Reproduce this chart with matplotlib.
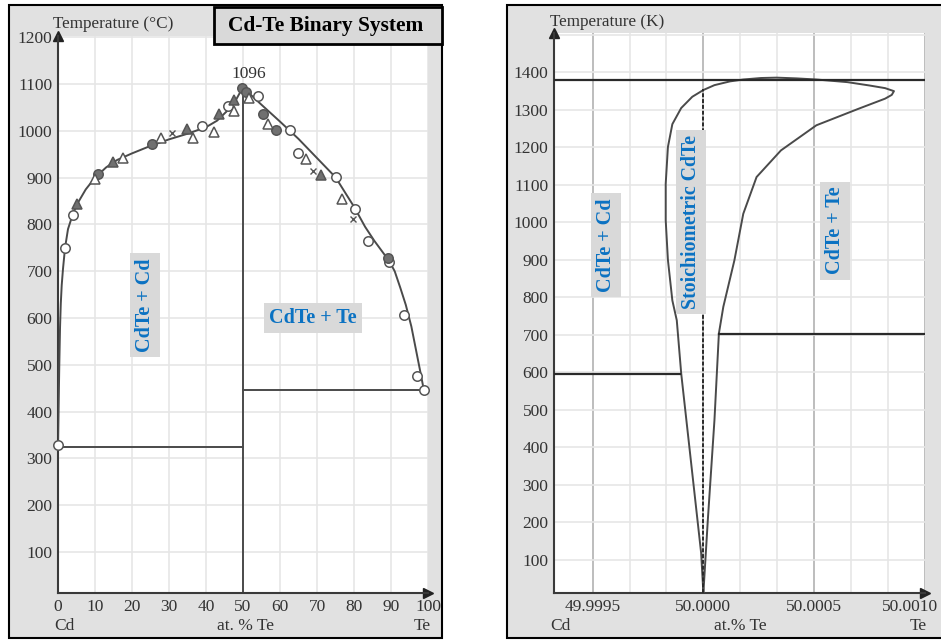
import matplotlib.pyplot as plt
from matplotlib.patches import Rectangle
from matplotlib.transforms import ScaledTranslation

# ---- left panel data (deg C vs at.% Te) ----
liq_x = [0, 0.15, 0.35, 0.55, 0.75, 1.0, 1.35, 1.9, 2.7, 4.0, 5.2, 7.5, 10, 13, 16, 20, 25, 30, 35,
         40, 43, 46, 48, 49.6, 50.3, 52, 55, 60, 65, 70, 75, 80, 83, 85.5, 89.5, 91, 92.5, 94, 95.5,
         97, 98, 98.9]
liq_t = [324, 400, 500, 580, 630, 670, 705, 750, 790, 822, 844, 875, 900, 922, 938, 952, 968, 982, 994,
         1008, 1022, 1045, 1065, 1088, 1090, 1078, 1056, 1020, 983, 942, 901, 838, 795, 765, 722, 700,
         665, 628, 582, 522, 482, 445]

open_circ_x = [0, 1.9, 4.1, 39, 45.9, 54, 62.7, 64.8, 75.1, 80.3, 83.9, 89.5, 93.5, 97.1, 98.9]
open_circ_t = [328, 749, 821, 1010, 1053, 1074, 1002, 952, 901, 834, 765, 719, 606, 475, 445]
fill_circ_x = [10.8, 25.4, 49.6, 50.8, 55.4, 58.9, 89.3]
fill_circ_t = [908, 973, 1091, 1083, 1037, 1003, 729]
open_tri_x = [10, 17.5, 27.8, 36.4, 42.2, 47.7, 51.7, 56.8, 67, 76.8]
open_tri_t = [898, 943, 985, 985, 998, 1042, 1071, 1014, 941, 854]
fill_tri_x = [5.2, 14.9, 34.8, 43.5, 47.7, 71.1]
fill_tri_t = [844, 934, 1005, 1036, 1066, 905]
cross_x = [30.7, 68.8, 79.8]
cross_t = [995, 914, 812]

eutectic_cd = 324
eutectic_te = 446
cdte_line_top = 1072

# ---- right panel data (K vs at.% Te) ----
sol_x = [50.0, 49.99999, 49.99994, 49.99990, 49.99988, 49.99986, 49.99984, 49.99983, 49.99983,
         49.99984, 49.99986, 49.99990, 49.99995, 50.00000, 50.00005, 50.00012, 50.00018, 50.00026,
         50.00033, 50.00042, 50.00051, 50.00065, 50.00075, 50.00082, 50.00086, 50.00085,
         50.00082, 50.00070, 50.00051, 50.00035, 50.00024, 50.00018, 50.00014, 50.00009,
         50.00007, 50.00005, 50.00002, 50.0]
sol_t = [12, 118, 384, 597, 739, 792, 900, 1006, 1103, 1201, 1262, 1305, 1335, 1353, 1366, 1376,
         1381, 1385, 1386, 1384, 1381, 1374, 1365, 1358, 1350, 1340, 1330, 1303, 1259, 1192, 1121,
         1023, 899, 775, 704, 473, 206, 12]

melt_k = 1380
line_te_k = 702
line_te_x0 = 50.000072
line_cd_k = 596
line_cd_x1 = 49.999896
stoich_top = 1355

plt.rcParams['font.family'] = ['Liberation Serif', 'DejaVu Serif']

W, H = 941, 641
fig = plt.figure(figsize=(W / 100, H / 100), dpi=100)
fig.patch.set_facecolor('white')


def fx(px):
    return px / W


def fy(py):
    return 1 - py / H


# gray panel frames
fig.patches.append(Rectangle((fx(9), fy(638)), fx(442 - 9), (638 - 5) / H, transform=fig.transFigure,
                             facecolor='#e1e1e1', edgecolor='black', lw=1.5, zorder=-2))
fig.patches.append(Rectangle((fx(507), fy(638)), fx(445), (638 - 5) / H, transform=fig.transFigure,
                             facecolor='#e1e1e1', edgecolor='black', lw=1.5, zorder=-2))

ax1 = fig.add_axes([fx(58), fy(593), fx(428 - 58), (593 - 36) / H])
ax2 = fig.add_axes([fx(554), fy(593), fx(925 - 554), (593 - 33) / H])

tick_col = '#333333'
line_col = '#4a4a4a'
for ax in (ax1, ax2):
    ax.set_zorder(1)
    ax.set_facecolor('white')
    for s in ('top', 'right'):
        ax.spines[s].set_visible(False)
    for s in ('left', 'bottom'):
        ax.spines[s].set_color('#3a3a3a')
        ax.spines[s].set_linewidth(1.5)
    ax.tick_params(length=0, labelsize=12.5, colors=tick_col, pad=4)
    ax.plot([0], [1], marker='^', color='#222222', ms=7, transform=ax.transAxes, clip_on=False)
    ax.plot([1], [0], marker='>', color='#222222', ms=7, transform=ax.transAxes, clip_on=False)

# ---- left panel ----
ax1.set_xlim(0, 100)
ax1.set_ylim(12, 1203)
ax1.set_xticks(range(0, 101, 10))
ax1.set_yticks(range(100, 1201, 100))
ax1.grid(True, color='#e6e6e6', lw=1.2)
ax1.set_axisbelow(True)

ax1.plot(liq_x, liq_t, color=line_col, lw=1.4, zorder=3)
ax1.plot([0, 50], [eutectic_cd, eutectic_cd], color=line_col, lw=1.4)
ax1.plot([50, 100], [eutectic_te, eutectic_te], color=line_col, lw=1.4)
ax1.plot([50, 50], [12, cdte_line_top], color=line_col, lw=1.4)

mk = dict(ls='none', ms=6.8, mec='#555555', mew=1.1, zorder=4, clip_on=False)
ax1.plot(open_circ_x, open_circ_t, marker='o', mfc='white', **mk)
ax1.plot(fill_circ_x, fill_circ_t, marker='o', mfc='#707070', **mk)
ax1.plot(open_tri_x, open_tri_t, marker='^', mfc='white', **mk)
ax1.plot(fill_tri_x, fill_tri_t, marker='^', mfc='#707070', **mk)
ax1.plot(cross_x, cross_t, marker='x', mfc='none', ls='none', ms=5, mec='#555555', mew=1.0, zorder=4)

ax1.text(51.5, 1121, '1096', fontsize=12.5, color=tick_col, ha='center', va='center')

blue = '#0b72c2'
box = dict(boxstyle='square,pad=0.25', facecolor='#d9d9d9', edgecolor='none')
ax1.text(23.5, 628, 'CdTe + Cd', rotation=90, fontsize=14.5, fontweight='bold', color=blue,
         ha='center', va='center', bbox=box)
ax1.text(69, 600, 'CdTe + Te', fontsize=14.5, fontweight='bold', color=blue,
         ha='center', va='center', bbox=box)

fig.text(fx(53), fy(24), 'Temperature (\u00b0C)', fontsize=12.3, color=tick_col, va='center')
fig.text(fx(54), fy(626), 'Cd', fontsize=12.5, color=tick_col, va='center')
fig.text(fx(245), fy(626), 'at. % Te', fontsize=12.5, color=tick_col, va='center', ha='center')
fig.text(fx(422), fy(626), 'Te', fontsize=12.5, color=tick_col, va='center', ha='center')

# title box
fig.patches.append(Rectangle((fx(214), fy(44)), fx(442 - 214), (44 - 7) / H, transform=fig.transFigure,
                             facecolor='#d9d9d9', edgecolor='black', lw=2, zorder=5))
fig.text(fx(326), fy(26), 'Cd-Te Binary System', fontsize=15.4, fontweight='bold', color='black',
         ha='center', va='center', zorder=6)

# ---- right panel ----
ax2.set_xlim(49.999326, 50.0010)
ax2.set_ylim(12, 1505)
major = [49.9995, 50.0, 50.0005, 50.0010]
ax2.set_xticks(major)
ax2.set_xticklabels(['%.4f' % v for v in major])
last = ax2.get_xticklabels()[-1]
last.set_transform(last.get_transform() + ScaledTranslation(-0.15, 0, fig.dpi_scale_trans))
ax2.set_yticks(range(100, 1401, 100))
minor_x = [49.9995 + k * 0.0005 / 3 for k in range(1, 9)]
for v in minor_x:
    ax2.axvline(v, color='#e6e6e6', lw=1.2, zorder=0)
for v in major:
    ax2.axvline(v, color='#bdbdbd', lw=1.4, zorder=0)
for t in range(100, 1501, 100):
    ax2.axhline(t, color='#e6e6e6', lw=1.2, zorder=0)

ax2.plot(sol_x, sol_t, color=line_col, lw=1.4, zorder=3)
ax2.plot([49.999326, 50.0010], [melt_k, melt_k], color='#2a2a2a', lw=1.6, zorder=3)
ax2.plot([line_te_x0, 50.0010], [line_te_k, line_te_k], color='#2a2a2a', lw=1.6, zorder=3)
ax2.plot([49.999326, line_cd_x1], [line_cd_k, line_cd_k], color='#2a2a2a', lw=1.6, zorder=3)
ax2.plot([50.0, 50.0], [12, stoich_top], color='#2a2a2a', lw=1.4, ls=(0, (2, 1)), zorder=3)

ax2.text(49.999559, 940, 'CdTe + Cd', rotation=90, fontsize=14.5, fontweight='bold', color=blue,
         ha='center', va='center', bbox=box)
ax2.text(49.999943, 1000, 'Stoichiometric CdTe', rotation=90, fontsize=14.3, fontweight='bold',
         color=blue, ha='center', va='center', bbox=box, zorder=4)
ax2.text(50.000595, 978, 'CdTe + Te', rotation=90, fontsize=14.5, fontweight='bold', color=blue,
         ha='center', va='center', bbox=box)

fig.text(fx(550), fy(22), 'Temperature (K)', fontsize=12.3, color=tick_col, va='center')
fig.text(fx(550), fy(626), 'Cd', fontsize=12.5, color=tick_col, va='center')
fig.text(fx(740), fy(626), 'at.% Te', fontsize=12.5, color=tick_col, va='center', ha='center')
fig.text(fx(918), fy(626), 'Te', fontsize=12.5, color=tick_col, va='center', ha='center')

fig.savefig('out.png', dpi=100)
